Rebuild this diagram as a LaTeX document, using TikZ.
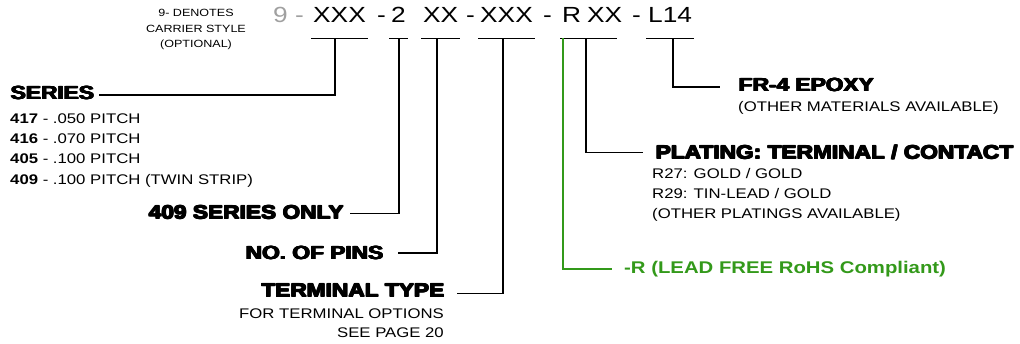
\documentclass[tikz,border=0pt]{standalone}
\usepackage{fontspec}
\setmainfont[FakeStretch=1.2]{Liberation Sans}
\newfontfamily\heavyfont[FakeStretch=1.2]{Liberation Sans Bold}
\newcommand\heavytext[1]{%
  \rlap{\kern0.6bp#1}\rlap{\kern1.2bp#1}%
  \rlap{\raisebox{0.5bp}{#1}}\rlap{\raisebox{0.5bp}{\kern0.6bp#1}}\rlap{\raisebox{0.5bp}{\kern1.2bp#1}}#1}
\usetikzlibrary{positioning}
\definecolor{rohsgreen}{RGB}{51,153,26}
\definecolor{optgray}{RGB}{160,160,160}

\begin{document}
\begin{tikzpicture}[
    x=1bp, y=-1bp,
    code/.style={anchor=base west, inner xsep=0pt, inner ysep=0pt, text height=16bp, text depth=15.7bp, font=\fontsize{22}{22}\selectfont},
    head/.style={inner sep=0pt, text height=13.6bp, text depth=0pt, font=\heavyfont\fontsize{19}{19}\selectfont},
    sub/.style={inner sep=0pt, text height=10bp, text depth=0pt, font=\fontsize{14}{14}\selectfont},
    note/.style={inner sep=0pt, text height=7.5bp, text depth=0pt, font=\fontsize{10.5}{10.5}\selectfont},
    wire/.style={line width=1.2bp},
    node distance=10bp
]
    \useasboundingbox (0,0) rectangle (1020,343);

    % part number
    \node[code, text=optgray] (opt) at (273,22.3) {9};
    \node[code, text=optgray] (d0) at (295,22.3) {-};
    \node[code] (ser) at (313,22.3) {XXX};
    \node[code] (d1) at (377,22.3) {-};
    \node[code] (twin) at (391,22.3) {2};
    \node[code] (pins) at (423,22.3) {XX};
    \node[code] (d2) at (466,22.3) {-};
    \node[code] (term) at (480,22.3) {XXX};
    \node[code] (d3) at (543,22.3) {-};
    \node[code] (lf) at (562,22.3) {R};
    \node[code] (plat) at (587,22.3) {XX};
    \node[code] (d4) at (632,22.3) {-};
    \node[code] (mat) at (648,22.3) {L14};

    \foreach \n in {ser,twin,pins,term,mat}
        \draw[wire] ([xshift=-2bp]\n.south west) -- ([xshift=2bp]\n.south east);
    \draw[wire] ([xshift=-2bp]lf.south west) -- ([xshift=-5bp]plat.south east);

    % carrier note
    \node[note] (n1) at (196,13) {9- DENOTES};
    \node[note, below=7.5bp of n1] (n2) {CARRIER STYLE};
    \node[note, below=7.5bp of n2] (n3) {(OPTIONAL)};

    % headings
    \node[head, anchor=west] (series) at (10,93) {\heavytext{SERIES}};
    \node[head, anchor=west] (only) at (148,212.5) {\heavytext{409 SERIES ONLY}};
    \node[head, anchor=west] (nopins) at (245,253) {\heavytext{NO. OF PINS}};
    \node[head, anchor=east] (termtype) at (444,290.5) {\heavytext{TERMINAL TYPE}};
    \node[head, anchor=west, text=rohsgreen, font=\bfseries\fontsize{17}{17}\selectfont, text height=12.2bp] (rohs) at (624,267.5) {-R (LEAD FREE RoHS Compliant)};
    \node[head, anchor=west] (plating) at (655,152.5) {\heavytext{PLATING: TERMINAL / CONTACT}};
    \node[head, anchor=west] (fr4) at (738,85) {\heavytext{FR-4 EPOXY}};

    % details
    \node[sub, anchor=west] (s417) at (10,118) {\textbf{417} - .050 PITCH};
    \node[sub, below=of s417.south west, anchor=north west] (s416) {\textbf{416} - .070 PITCH};
    \node[sub, below=of s416.south west, anchor=north west] (s405) {\textbf{405} - .100 PITCH};
    \node[sub, below=of s405.south west, anchor=north west] (s409) {\textbf{409} - .100 PITCH (TWIN STRIP)};

    \node[sub, anchor=east] (opts) at (444,313) {FOR TERMINAL OPTIONS};
    \node[sub, below=9bp of opts.south east, anchor=north east] (page) {SEE PAGE 20};

    \node[sub, anchor=west] (r27) at (652,173) {R27: GOLD / GOLD};
    \node[sub, below=of r27.south west, anchor=north west] (r29) {R29: TIN-LEAD / GOLD};
    \node[sub, below=of r29.south west, anchor=north west] (oplat) {(OTHER PLATINGS AVAILABLE)};

    \node[sub, anchor=west] (omat) at (738,106) {(OTHER MATERIALS AVAILABLE)};

    % leaders
    \coordinate (tser) at (335,38);
    \coordinate (ttwin) at (399,38);
    \coordinate (tpins) at (437,38);
    \coordinate (tterm) at (503,38);
    \coordinate (tlf) at (563,38);
    \coordinate (tplat) at (586,38);
    \coordinate (tmat) at (673,38);

    \draw[wire] (tser) |- ([xshift=5bp,yshift=-2bp]series.east);
    \draw[wire] (ttwin) |- ([xshift=7bp,yshift=-1bp]only.east);
    \draw[wire] (tpins) |- ([xshift=15bp]nopins.east);
    \draw[wire] (tterm) |- ([xshift=13bp,yshift=-3bp]termtype.east);
    \draw[wire, rohsgreen] (tlf) |- ([xshift=-12bp,yshift=-1.5bp]rohs.west);
    \draw[wire] (tplat) |- ([xshift=-12bp]plating.west);
    \draw[wire] (tmat) |- ([xshift=-18bp,yshift=-2bp]fr4.west);
\end{tikzpicture}
\end{document}
